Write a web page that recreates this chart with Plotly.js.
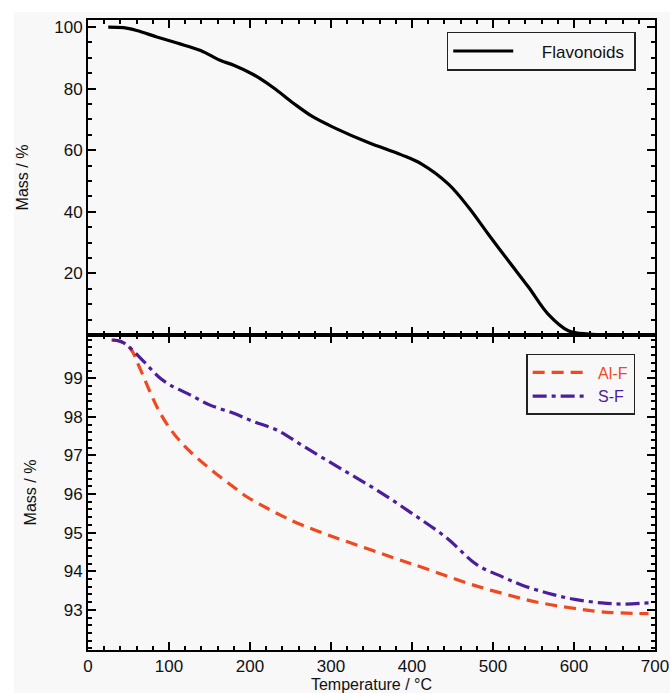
<!DOCTYPE html>
<html>
<head>
<meta charset="utf-8">
<script src="https://cdn.plot.ly/plotly-3.0.1.min.js"></script>
<style>
html,body{margin:0;padding:0;background:#ffffff;}
#chart{position:absolute;left:14px;top:12px;width:656px;height:681px;background:#f8f8f8;}
</style>
</head>
<body>
<div id="chart"></div>
<script>
// Flavonoids (top panel)
const flavT = [25, 44, 60, 85, 110, 139, 163, 180, 204, 229, 254, 278, 305, 346, 387, 412, 445, 470, 494, 519, 544, 568, 593, 618, 650, 700];
const flavM = [100, 99.8, 98.9, 96.8, 94.8, 92.4, 89.2, 87.6, 84.6, 80.3, 75.2, 70.8, 67.2, 62.5, 58.5, 55.5, 49, 41.4, 32.8, 24.1, 15.5, 6.8, 1.4, 0.3, 0.05, 0];

// Al-F (bottom panel)
const alT = [29, 40, 52, 64, 76.5, 87, 101, 118, 135, 155, 176, 196, 217, 237, 258, 295, 336, 377, 414, 470, 511, 552, 593, 634, 692];
const alM = [99.99, 99.95, 99.78, 99.26, 98.65, 98.18, 97.70, 97.27, 96.93, 96.58, 96.24, 95.93, 95.68, 95.46, 95.25, 94.95, 94.65, 94.35, 94.09, 93.68, 93.43, 93.21, 93.06, 92.95, 92.9];

// S-F (bottom panel)
const sfT = [30, 40, 48, 69, 87, 101, 126, 150, 180, 204, 233, 266, 311, 356, 402, 443, 480, 511, 536, 568, 601, 634, 659, 692];
const sfM = [99.99, 99.96, 99.86, 99.43, 99.04, 98.83, 98.57, 98.31, 98.09, 97.88, 97.66, 97.24, 96.67, 96.11, 95.47, 94.86, 94.17, 93.86, 93.64, 93.43, 93.27, 93.18, 93.15, 93.18];

const topTickVals = [20, 40, 60, 80, 100];
const botTickVals = [93, 94, 95, 96, 97, 98, 99];

const RED = '#f0481f';
const PURPLE = '#4b1e9c';
const FONT = 'Liberation Sans, Arial, sans-serif';
const NB = '\u00a0';

const traces = [
  {x: flavT, y: flavM, xaxis: 'x', yaxis: 'y', mode: 'lines', name: NB.repeat(5) + 'Flavonoids' + NB,
   line: {color: '#000000', width: 3.2, shape: 'spline'}, legend: 'legend'},
  {x: alT, y: alM, xaxis: 'x2', yaxis: 'y2', mode: 'lines',
   name: NB + '<span style="color:' + RED + '">Al-F</span>',
   line: {color: RED, width: 3.2, shape: 'spline', dash: '12px,7px'}, legend: 'legend2'},
  {x: sfT, y: sfM, xaxis: 'x2', yaxis: 'y2', mode: 'lines',
   name: NB + '<span style="color:' + PURPLE + '">S-F</span>',
   line: {color: PURPLE, width: 3.2, shape: 'spline', dash: '14px,5px,4px,5px'}, legend: 'legend2'}
];

function axis(extra) {
  return Object.assign({
    showline: true, linecolor: 'black', linewidth: 2, mirror: 'allticks', layer: 'above traces',
    ticks: 'inside', ticklen: 8, tickwidth: 2, tickcolor: 'black',
    showgrid: true, gridcolor: 'rgba(0,0,0,0)', zeroline: false,
    tickfont: {family: FONT, size: 17, color: '#111111'}
  }, extra);
}
function minor(d) {
  return {dtick: d, ticks: 'inside', ticklen: 4, tickwidth: 2, tickcolor: 'black', showgrid: false};
}

const layout = {
  width: 656, height: 681,
  margin: {l: 74, r: 15, t: 8, b: 43},
  paper_bgcolor: 'rgba(0,0,0,0)', plot_bgcolor: 'rgba(0,0,0,0)',
  showlegend: true,
  xaxis: axis({
    domain: [0, 1], range: [0, 700], anchor: 'y', dtick: 100, showticklabels: false,
    minor: minor(20)
  }),
  yaxis: axis({
    domain: [0.5, 1], range: [0, 102.3], anchor: 'x', tickvals: topTickVals,
    minor: minor(5),
    title: {text: 'Mass / %', font: {family: FONT, size: 16, color: '#111111'}, standoff: 23}
  }),
  xaxis2: axis({
    domain: [0, 1], range: [0, 700], anchor: 'y2', dtick: 100,
    minor: minor(20),
    title: {text: 'Temperature / °C', font: {family: FONT, size: 16, color: '#111111'}, standoff: 7}
  }),
  yaxis2: axis({
    domain: [0, 0.5], range: [91.96, 100.12], anchor: 'x2', tickvals: botTickVals,
    minor: minor(0.2),
    title: {text: 'Mass / %', font: {family: FONT, size: 16, color: '#111111'}, standoff: 23}
  }),
  legend: {
    x: 0.966, xanchor: 'right', y: 0.981, yanchor: 'top', itemwidth: 60,
    bgcolor: '#f8f8f8', bordercolor: '#222222', borderwidth: 1.5,
    font: {family: FONT, size: 17, color: '#111111'}
  },
  legend2: {
    x: 0.965, xanchor: 'right', y: 0.47, yanchor: 'top', itemwidth: 56,
    bgcolor: '#f8f8f8', bordercolor: '#222222', borderwidth: 1.5,
    font: {family: FONT, size: 16, color: '#111111'}
  }
};

Plotly.newPlot('chart', traces, layout, {displayModeBar: false});
</script>
</body>
</html>
